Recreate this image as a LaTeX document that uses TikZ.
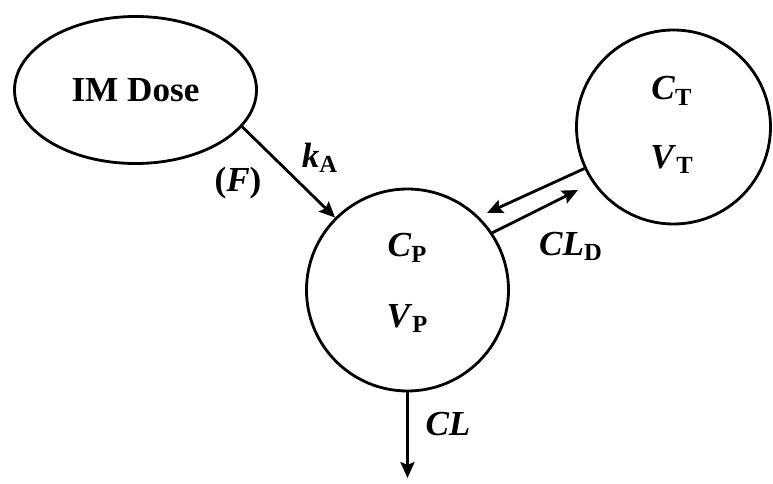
\documentclass[tikz,border=0pt]{standalone}
\usepackage{fontspec}
\setmainfont{Liberation Serif}
\usetikzlibrary{arrows.meta,positioning,calc,shapes.geometric}
\newcommand{\pkvar}[2]{\textbf{\textit{#1}}\textsubscript{\textbf{#2}}}

\begin{document}
\begin{tikzpicture}[comp/.style={draw,circle,line width=1.6pt,inner sep=0pt},
  lbl/.style={font=\fontsize{20}{24}\selectfont\bfseries,anchor=base,inner sep=0pt},
  flow/.style={line width=1.6pt,-{Stealth[length=9pt,width=8pt,inset=1.5pt]}}]
\useasboundingbox (0,0) rectangle (15.46,9.66);
\node[draw,ellipse,line width=1.6pt,minimum width=4.84cm,minimum height=2.94cm,font=\fontsize{20}{24}\selectfont\bfseries] (dose) at (2.71,7.86) {IM Dose};
\node[comp,minimum size=4.04cm] (P) at (8.15,3.86) {};
\node[comp,minimum size=3.88cm] (T) at (13.47,7.12) {};
% compartment contents
\node[lbl] (cp) at (8.15,4.52) {\pkvar{C}{P}};
\node[lbl] (vp) at (8.15,3.12) {\pkvar{V}{P}};
\node[lbl] (ct) at (13.44,7.66) {\pkvar{C}{T}};
\node[lbl] (vt) at (13.44,6.30) {\pkvar{V}{T}};
% free ends
\coordinate (toP) at (9.74,5.40);
\coordinate (toT) at (11.56,5.86);
\coordinate (out) at (8.15,0.10);
\draw[flow] (dose.-19) -- (P.135);
\draw[flow] (T.205) -- (toP);
\draw[flow] (P.34) -- (toT);
\draw[flow] (P.south) -- (out);
% rate labels
\node[lbl] (ka) at (6.40,6.32) {\pkvar{k}{A}};
\node[lbl] (bio) at (4.76,5.82) {(\textbf{\textit{F}})};
\node[lbl] (cld) at (11.42,4.56) {\pkvar{CL}{D}};
\node[lbl] (cl) at (8.96,0.96) {\textbf{\textit{CL}}};
\end{tikzpicture}
\end{document}
